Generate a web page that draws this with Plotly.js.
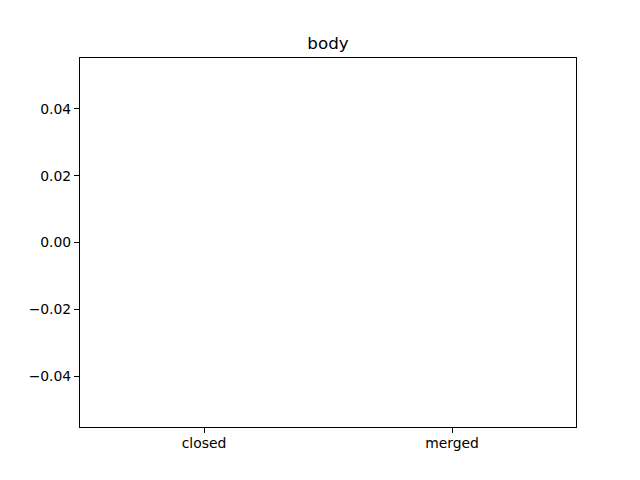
<!DOCTYPE html>
<html>
<head>
<meta charset="utf-8">
<script src="https://cdn.plot.ly/plotly-3.0.1.min.js"></script>
<style>html,body{margin:0;padding:0;background:#fff;}#chart{width:640px;height:480px;}</style>
</head>
<body>
<div id="chart"></div>
<script>
const categories = ["closed", "merged"];
const values = [0, 0];
const chartTitle = "body";
const yTickVals = [-0.04, -0.02, 0, 0.02, 0.04];

const trace = {
  type: "bar",
  x: [0, 1],
  y: values,
  width: 0.8,
  marker: {color: "#1f77b4"},
  hoverinfo: "skip"
};

const layout = {
  width: 640, height: 480,
  margin: {l: 80, r: 64, t: 58, b: 53},
  paper_bgcolor: "#fff", plot_bgcolor: "#fff",
  font: {family: "DejaVu Sans", size: 13.9, color: "#000"},
  showlegend: false,
  title: {
    text: chartTitle,
    font: {family: "DejaVu Sans", size: 16.7, color: "#000"},
    x: 0.5, xref: "paper", xanchor: "center",
    y: 1, yref: "paper", yanchor: "bottom",
    pad: {b: 9}
  },
  xaxis: {
    range: [-0.5, 1.5],
    tickvals: [0, 1],
    ticktext: categories,
    ticks: "outside", ticklen: 5, tickwidth: 1, tickcolor: "#000",
    ticklabelstandoff: -2,
    showline: true, mirror: true, linecolor: "#000", linewidth: 1,
    showgrid: false, zeroline: false,
    tickfont: {family: "DejaVu Sans", size: 13.9, color: "#000"}
  },
  yaxis: {
    range: [-0.05525, 0.05525],
    tickvals: yTickVals,
    tickformat: ".2f",
    ticks: "outside", ticklen: 5, tickwidth: 1, tickcolor: "#000",
    showline: true, mirror: true, linecolor: "#000", linewidth: 1,
    showgrid: false, zeroline: false,
    tickfont: {family: "DejaVu Sans", size: 13.9, color: "#000"}
  }
};

Plotly.newPlot("chart", [trace], layout, {displayModeBar: false, staticPlot: true});
</script>
</body>
</html>
